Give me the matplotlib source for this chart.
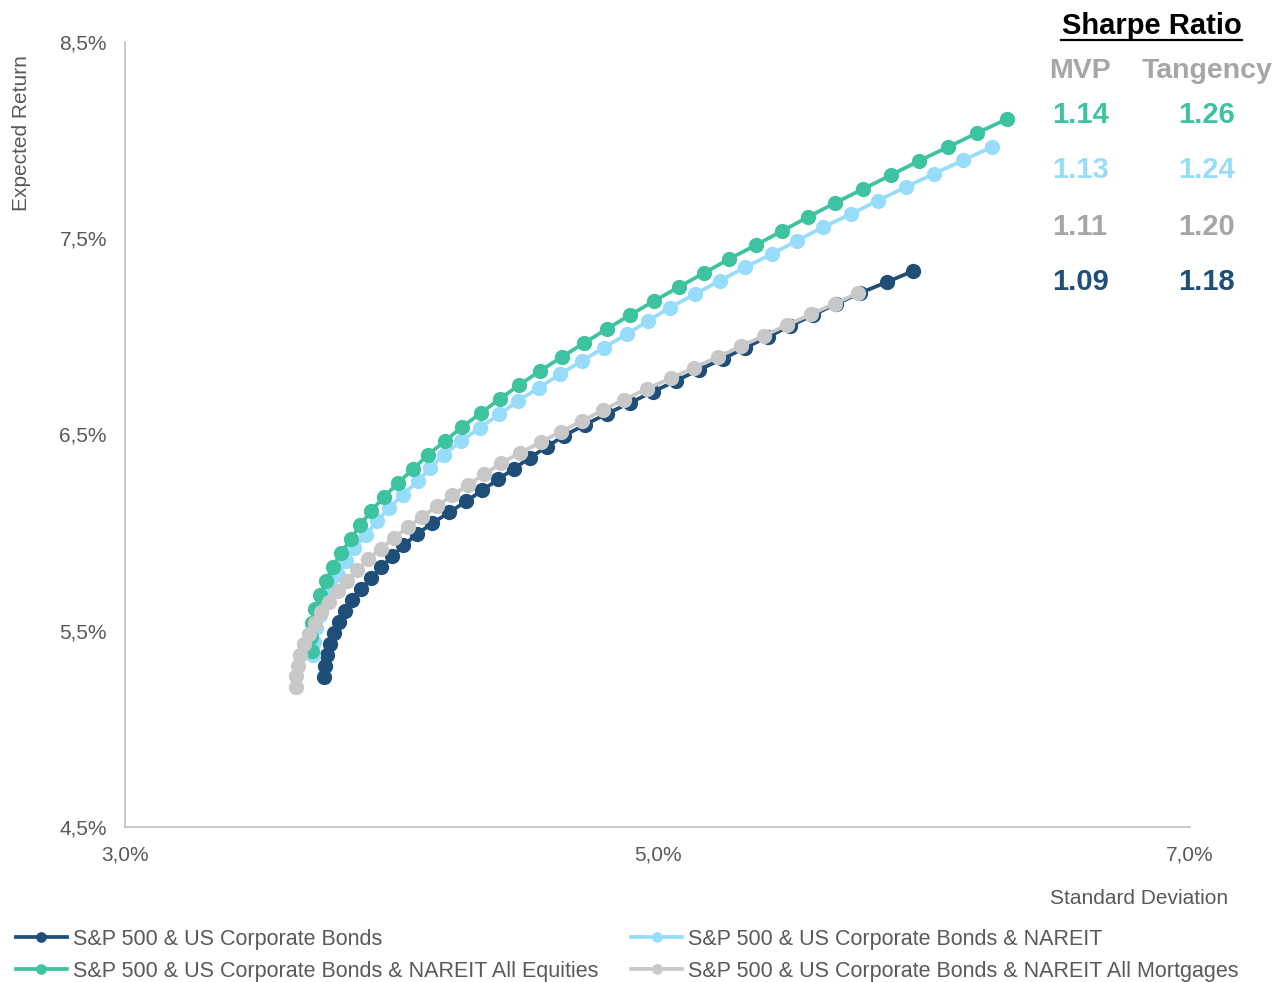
import matplotlib
matplotlib.use("Agg")
import matplotlib.pyplot as plt
from matplotlib.lines import Line2D

plt.rcParams['font.family'] = ['Liberation Sans', 'DejaVu Sans']

# efficient frontiers: standard deviation (%) and expected return (%)
sp_bonds_sd = [3.747, 3.751, 3.758, 3.771, 3.785, 3.804, 3.826, 3.851, 3.886, 3.924,
               3.962, 4.003, 4.046, 4.095, 4.153, 4.217, 4.281, 4.341, 4.401, 4.461,
               4.521, 4.585, 4.649, 4.728, 4.810, 4.897, 4.983, 5.070, 5.156, 5.246,
               5.329, 5.415, 5.498, 5.584, 5.670, 5.761, 5.862, 5.960]
sp_bonds_ret = [5.264, 5.320, 5.376, 5.432, 5.488, 5.544, 5.599, 5.655, 5.711, 5.767,
                5.823, 5.879, 5.935, 5.991, 6.047, 6.103, 6.159, 6.215, 6.271, 6.326,
                6.382, 6.438, 6.494, 6.550, 6.606, 6.662, 6.718, 6.774, 6.830, 6.886,
                6.942, 6.998, 7.053, 7.109, 7.165, 7.221, 7.277, 7.333]

nareit_sd = [3.706, 3.710, 3.717, 3.732, 3.751, 3.774, 3.800, 3.830, 3.860, 3.905,
             3.946, 3.992, 4.044, 4.100, 4.146, 4.198, 4.262, 4.333, 4.405, 4.476,
             4.555, 4.634, 4.716, 4.799, 4.885, 4.964, 5.047, 5.141, 5.235, 5.329,
             5.430, 5.524, 5.622, 5.727, 5.828, 5.933, 6.039, 6.147, 6.256]
nareit_ret = [5.376, 5.444, 5.512, 5.581, 5.649, 5.717, 5.785, 5.853, 5.921, 5.989,
              6.057, 6.126, 6.194, 6.262, 6.330, 6.398, 6.466, 6.534, 6.602, 6.671,
              6.739, 6.807, 6.875, 6.943, 7.011, 7.079, 7.147, 7.216, 7.284, 7.352,
              7.420, 7.488, 7.556, 7.624, 7.692, 7.761, 7.829, 7.897, 7.965]

equities_sd = [3.702, 3.699, 3.702, 3.714, 3.732, 3.755, 3.781, 3.811, 3.849, 3.883,
               3.924, 3.973, 4.025, 4.082, 4.138, 4.202, 4.266, 4.337, 4.408, 4.480,
               4.559, 4.641, 4.724, 4.810, 4.897, 4.987, 5.081, 5.175, 5.269, 5.370,
               5.468, 5.565, 5.667, 5.772, 5.877, 5.982, 6.091, 6.200, 6.313]
equities_ret = [5.397, 5.468, 5.540, 5.611, 5.682, 5.754, 5.825, 5.896, 5.968, 6.039,
                6.110, 6.182, 6.253, 6.324, 6.396, 6.467, 6.538, 6.610, 6.681, 6.752,
                6.824, 6.895, 6.966, 7.038, 7.109, 7.180, 7.252, 7.323, 7.394, 7.466,
                7.537, 7.608, 7.680, 7.751, 7.822, 7.894, 7.965, 8.036, 8.108]

mortgages_sd = [3.642, 3.644, 3.648, 3.657, 3.672, 3.691, 3.714, 3.738, 3.768, 3.800,
                3.835, 3.873, 3.914, 3.960, 4.010, 4.062, 4.116, 4.172, 4.230, 4.290,
                4.350, 4.412, 4.484, 4.562, 4.638, 4.718, 4.795, 4.875, 4.960, 5.050,
                5.138, 5.226, 5.314, 5.400, 5.487, 5.576, 5.665, 5.753]
mortgages_ret = [5.213, 5.267, 5.321, 5.376, 5.430, 5.484, 5.538, 5.593, 5.647, 5.701,
                 5.756, 5.810, 5.864, 5.918, 5.973, 6.027, 6.081, 6.135, 6.190, 6.244,
                 6.298, 6.353, 6.407, 6.461, 6.515, 6.570, 6.624, 6.678, 6.733, 6.787,
                 6.841, 6.895, 6.950, 7.004, 7.058, 7.112, 7.167, 7.221]

series_names = ["S&P 500 & US Corporate Bonds",
                "S&P 500 & US Corporate Bonds & NAREIT",
                "S&P 500 & US Corporate Bonds & NAREIT All Equities",
                "S&P 500 & US Corporate Bonds & NAREIT All Mortgages"]
series_colors = ["#1F4E79", "#97DCFB", "#3DC3A0", "#C8C8C8"]

# sharpe ratios, rows top to bottom: all equities, nareit, all mortgages, bonds
sharpe_rows = ["equities", "nareit", "mortgages", "bonds"]
mvp_sharpe = [1.14, 1.13, 1.11, 1.09]
tangency_sharpe = [1.26, 1.24, 1.20, 1.18]
sharpe_colors = ["#3DC3A0", "#97DCFB", "#A6A6A6", "#1F4E79"]

x_ticks = [3.0, 5.0, 7.0]
x_ticklabels = ["3,0%", "5,0%", "7,0%"]
y_ticks = [4.5, 5.5, 6.5, 7.5, 8.5]
y_ticklabels = ["4,5%", "5,5%", "6,5%", "7,5%", "8,5%"]

W, H = 1276, 982
fig = plt.figure(figsize=(W / 100, H / 100), dpi=100)
ax = fig.add_axes([125 / W, 1 - 827 / H, (1190 - 125) / W, (827 - 42) / H])

data = [(sp_bonds_sd, sp_bonds_ret), (nareit_sd, nareit_ret),
        (equities_sd, equities_ret), (mortgages_sd, mortgages_ret)]
lines = []
for i, (sd, ret) in enumerate(data):
    ln, = ax.plot(sd, ret, color=series_colors[i], lw=2.7, marker='o',
                  markersize=11, markeredgewidth=0, zorder=2 + i)
    lines.append(ln)

ax.set_xlim(3.0, 7.0)
ax.set_ylim(4.5, 8.5)
ax.set_xticks(x_ticks)
ax.set_xticklabels(x_ticklabels)
ax.set_yticks(y_ticks)
ax.set_yticklabels(y_ticklabels)
ax.tick_params(axis='both', length=0, labelsize=15, colors='#595959')
ax.tick_params(axis='x', pad=13)
ax.tick_params(axis='y', pad=13)
for side in ['top', 'right']:
    ax.spines[side].set_visible(False)
for side in ['left', 'bottom']:
    ax.spines[side].set_color('#BFBFBF')
    ax.spines[side].set_linewidth(1.2)

fig.text(22 / W, 1 - 55 / H, "Expected Return", rotation=90, ha='center',
         va='top', fontsize=15, color='#595959')
fig.text(1228 / W, 1 - 898 / H, "Standard Deviation", ha='right',
         va='center', fontsize=15, color='#595959')

# sharpe ratio table in the upper right
fig.text(1151.5 / W, 1 - 34 / H, "Sharpe Ratio", ha='center', va='baseline',
         fontsize=21, fontweight='bold', color='black')
fig.add_artist(Line2D([1061 / W, 1242 / W], [1 - 40 / H, 1 - 40 / H],
                      transform=fig.transFigure, color='black', lw=1.6))
fig.text(1080 / W, 1 - 78 / H, "MVP", ha='center', va='baseline',
         fontsize=20.5, fontweight='bold', color='#A6A6A6')
fig.text(1207 / W, 1 - 78 / H, "Tangency", ha='center', va='baseline',
         fontsize=20.5, fontweight='bold', color='#A6A6A6')
row_baselines = [123, 178, 235, 290]
for i in range(len(sharpe_rows)):
    fig.text(1080 / W, 1 - row_baselines[i] / H, f"{mvp_sharpe[i]:.2f}",
             ha='center', va='baseline', fontsize=21, fontweight='bold',
             color=sharpe_colors[i])
    fig.text(1206 / W, 1 - row_baselines[i] / H, f"{tangency_sharpe[i]:.2f}",
             ha='center', va='baseline', fontsize=21, fontweight='bold',
             color=sharpe_colors[i])

order = [0, 2, 1, 3]
fig.legend([lines[i] for i in order], [series_names[i] for i in order],
           loc='upper left', bbox_to_anchor=(16 / W, 1 - 929 / H), ncol=2,
           frameon=False, fontsize=15.5, handlelength=2.35, handletextpad=0.28,
           columnspacing=1.55, labelspacing=0.5, borderpad=0, borderaxespad=0,
           markerscale=0.7, labelcolor='#595959')

fig.savefig("out.png", dpi=100)
